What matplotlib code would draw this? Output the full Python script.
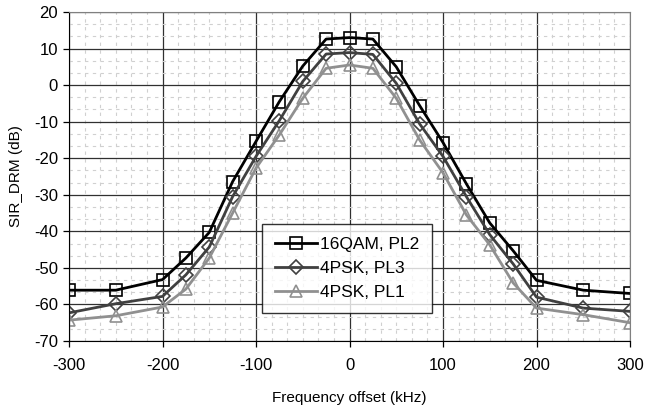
import matplotlib
matplotlib.use("Agg")
import matplotlib.pyplot as plt
import numpy as np
from matplotlib.ticker import MultipleLocator

plt.rcParams['font.family'] = ['Liberation Sans', 'DejaVu Sans']
plt.rcParams['axes.unicode_minus'] = False

freq = [-300, -250, -200, -175, -150, -125, -100, -75, -50, -25, 0,
        25, 50, 75, 100, 125, 150, 175, 200, 250, 300]
qam16_pl2 = [-56.1, -56.1, -53.2, -47.3, -40.3, -26.4, -15.4, -4.5, 5.2, 12.6, 13.0,
             12.6, 5.0, -5.6, -15.7, -27.0, -37.7, -45.3, -53.4, -56.1, -57.0]
psk4_pl3 = [-62.3, -59.8, -57.8, -51.9, -44.3, -30.5, -19.5, -9.7, 1.0, 8.5, 8.9,
            8.4, 0.5, -10.6, -19.5, -30.5, -40.9, -48.9, -58.0, -61.0, -61.9]
psk4_pl1 = [-64.3, -63.1, -60.7, -55.8, -47.3, -35.0, -22.7, -13.6, -3.6, 4.6, 5.5,
            4.6, -3.6, -15.0, -24.0, -35.5, -43.7, -54.1, -61.0, -62.8, -65.0]
labels = ["16QAM, PL2", "4PSK, PL3", "4PSK, PL1"]

fig = plt.figure(figsize=(6.46, 4.12), dpi=100)
ax = fig.add_axes([69/646, 1-341/412, (630-69)/646, (341-12)/412])

ax.set_xlim(-300, 300)
ax.set_ylim(-70, 20)
ax.xaxis.set_major_locator(MultipleLocator(100))
ax.yaxis.set_major_locator(MultipleLocator(10))
ax.xaxis.set_minor_locator(MultipleLocator(100/6))
ax.yaxis.set_minor_locator(MultipleLocator(10/3))
ax.grid(which='minor', color='#d0d0d0', linestyle=(0, (3, 4)), linewidth=0.8)
ax.grid(which='major', color='#303030', linestyle='-', linewidth=0.9)
ax.tick_params(which='minor', length=0)
ax.tick_params(which='major', direction='out', length=4, width=0.9, labelsize=12, colors='black')
ax.tick_params(axis='x', pad=8)
ax.tick_params(axis='y', pad=4)
for s in ['top', 'right']:
    ax.spines[s].set_color('#808080')
for s in ['left', 'bottom']:
    ax.spines[s].set_color('black')
ax.set_axisbelow(True)

ax.plot(freq, qam16_pl2, color='black', lw=2, marker='s', ms=9, mfc='none', mec='black', mew=1.2, label=labels[0])
ax.plot(freq, psk4_pl3, color='#404040', lw=2, marker='D', ms=7, mfc='none', mec='#404040', mew=1.2, label=labels[1])
ax.plot(freq, psk4_pl1, color='#909090', lw=2, marker='^', ms=9, mfc='none', mec='#909090', mew=1.2, label=labels[2])

ax.set_xlabel("Frequency offset (kHz)", fontsize=11, labelpad=13)
ax.set_ylabel("SIR_DRM (dB)", fontsize=11, labelpad=8)

leg = ax.legend(loc='upper left', bbox_to_anchor=((262-69)/561, 1-(224-12)/329),
                fontsize=12.5, frameon=True, fancybox=False, edgecolor='black',
                borderpad=0.75, handlelength=2.4, labelspacing=0.5, handletextpad=0.2,
                borderaxespad=0)
leg.get_frame().set_linewidth(1.0)

fig.savefig("out.png", dpi=100)
